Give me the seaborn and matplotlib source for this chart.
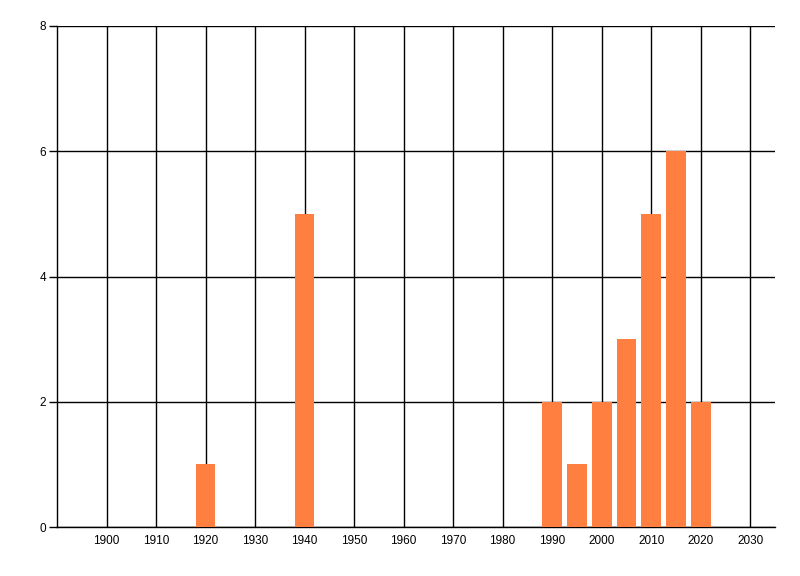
import matplotlib
matplotlib.use("Agg")
import matplotlib.pyplot as plt
import seaborn as sns
import pandas as pd

years = [1920, 1940, 1990, 1995, 2000, 2005, 2010, 2015, 2020]
counts = [1, 5, 2, 1, 2, 3, 5, 6, 2]
x_ticks = list(range(1900, 2031, 10))
y_ticks = [0, 2, 4, 6, 8]

sns.set_style("white")
plt.rcParams['font.family'] = ['Liberation Sans', 'DejaVu Sans']

fig = plt.figure(figsize=(8, 5.76), dpi=100)
ax = fig.add_axes([57/800, 49/576, 718/800, 501/576])

df = pd.DataFrame({"year": years, "count": counts})
sns.barplot(data=df, x="year", y="count", native_scale=True, width=0.8,
            color="#FF7F40", saturation=1, ax=ax, zorder=3, linewidth=0)

ax.set_xlim(1890, 2035)
ax.set_ylim(0, 8)
ax.set_xticks(x_ticks)
ax.set_xticklabels([str(t) for t in x_ticks])
ax.set_yticks(y_ticks)
ax.set_yticklabels([str(t) for t in y_ticks])
ax.grid(True, color="black", linewidth=1.0)
ax.set_axisbelow(True)
for s in ["top", "right"]:
    ax.spines[s].set_visible(False)
for s in ["left", "bottom"]:
    ax.spines[s].set_color("black")
    ax.spines[s].set_linewidth(1.0)
ax.tick_params(axis="x", length=0, pad=6, labelsize=8.5, colors="black")
ax.tick_params(axis="y", length=6, width=1, pad=2, labelsize=8.5, colors="black", left=True)
ax.set_xlabel("")
ax.set_ylabel("")

fig.savefig("out.png", dpi=100)
